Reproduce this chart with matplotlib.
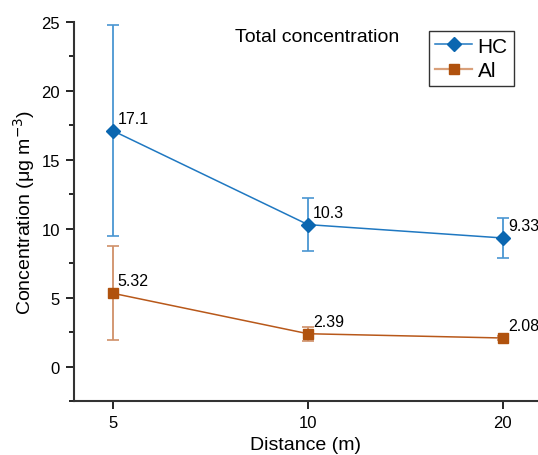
import matplotlib.pyplot as plt
from matplotlib.ticker import MultipleLocator
from matplotlib.lines import Line2D

plt.rcParams['font.family'] = ['Liberation Sans', 'DejaVu Sans']

distances = ['5', '10', '20']
hc_mean = [17.1, 10.3, 9.33]
hc_err = [7.65, 1.9, 1.45]
ai_mean = [5.32, 2.39, 2.08]
ai_err = [3.42, 0.5, 0.15]
hc_labels = ['17.1', '10.3', '9.33']
ai_labels = ['5.32', '2.39', '2.08']

fig = plt.figure(figsize=(5.38, 4.56), dpi=100)
ax = fig.add_axes([0.1375, 0.118, 0.8625, 0.832])

x = list(range(len(distances)))

ax.errorbar(x, hc_mean, yerr=hc_err, color='#1f78c1', ecolor='#4a96d2',
            elinewidth=1.3, capsize=4, capthick=1.2, lw=1.1,
            marker='D', ms=7, mfc='#0a66b0', mec='#0a66b0')
ax.errorbar(x, ai_mean, yerr=ai_err, color='#b8581a', ecolor='#d09068',
            elinewidth=1.3, capsize=4, capthick=1.2, lw=1.1,
            marker='s', ms=7, mfc='#b0520e', mec='#b0520e')

for xi, yi, t in zip(x, hc_mean, hc_labels):
    ax.annotate(t, (xi, yi), xytext=(3.5, 3.5), textcoords='offset points',
                fontsize=11.5, ha='left', va='bottom')
for xi, yi, t in zip(x, ai_mean, ai_labels):
    ax.annotate(t, (xi, yi), xytext=(3.5, 3.5), textcoords='offset points',
                fontsize=11.5, ha='left', va='bottom')

ax.text(0.347, 0.961, 'Total concentration', transform=ax.transAxes,
        fontsize=14, ha='left', va='center')

ax.set_xlim(-0.2, 2.18)
ax.set_ylim(-2.5, 25)
ax.set_xticks(x)
ax.set_xticklabels(distances)
ax.yaxis.set_major_locator(MultipleLocator(5))
ax.yaxis.set_minor_locator(MultipleLocator(2.5))
ax.tick_params(axis='both', which='major', direction='out', length=6,
               width=1.2, labelsize=12, pad=4)
ax.tick_params(axis='y', which='minor', direction='out', length=3.5, width=1.2)

for s in ['top', 'right']:
    ax.spines[s].set_visible(False)
for s in ['left', 'bottom']:
    ax.spines[s].set_linewidth(1.5)
    ax.spines[s].set_color('#333333')

ax.set_xlabel('Distance (m)', fontsize=14, labelpad=4)
ax.set_ylabel('Concentration (μg m$^{-3}$)', fontsize=14, labelpad=3)

handles = [
    Line2D([], [], color='#1f78c1', lw=1.1, marker='D', ms=7,
           mfc='#0a66b0', mec='#0a66b0'),
    Line2D([], [], color='#d9a07a', lw=1.6, marker='s', ms=7,
           mfc='#b0520e', mec='#b0520e'),
]
leg = ax.legend(handles, ['HC', 'Al'], loc='upper right',
                bbox_to_anchor=(0.948, 0.977), borderaxespad=0, fontsize=15,
                frameon=True, fancybox=False, edgecolor='black',
                handlelength=1.8, handletextpad=0.25, borderpad=0.3,
                labelspacing=0.25)
leg.get_frame().set_linewidth(1.0)

fig.savefig('out.png', dpi=100)
